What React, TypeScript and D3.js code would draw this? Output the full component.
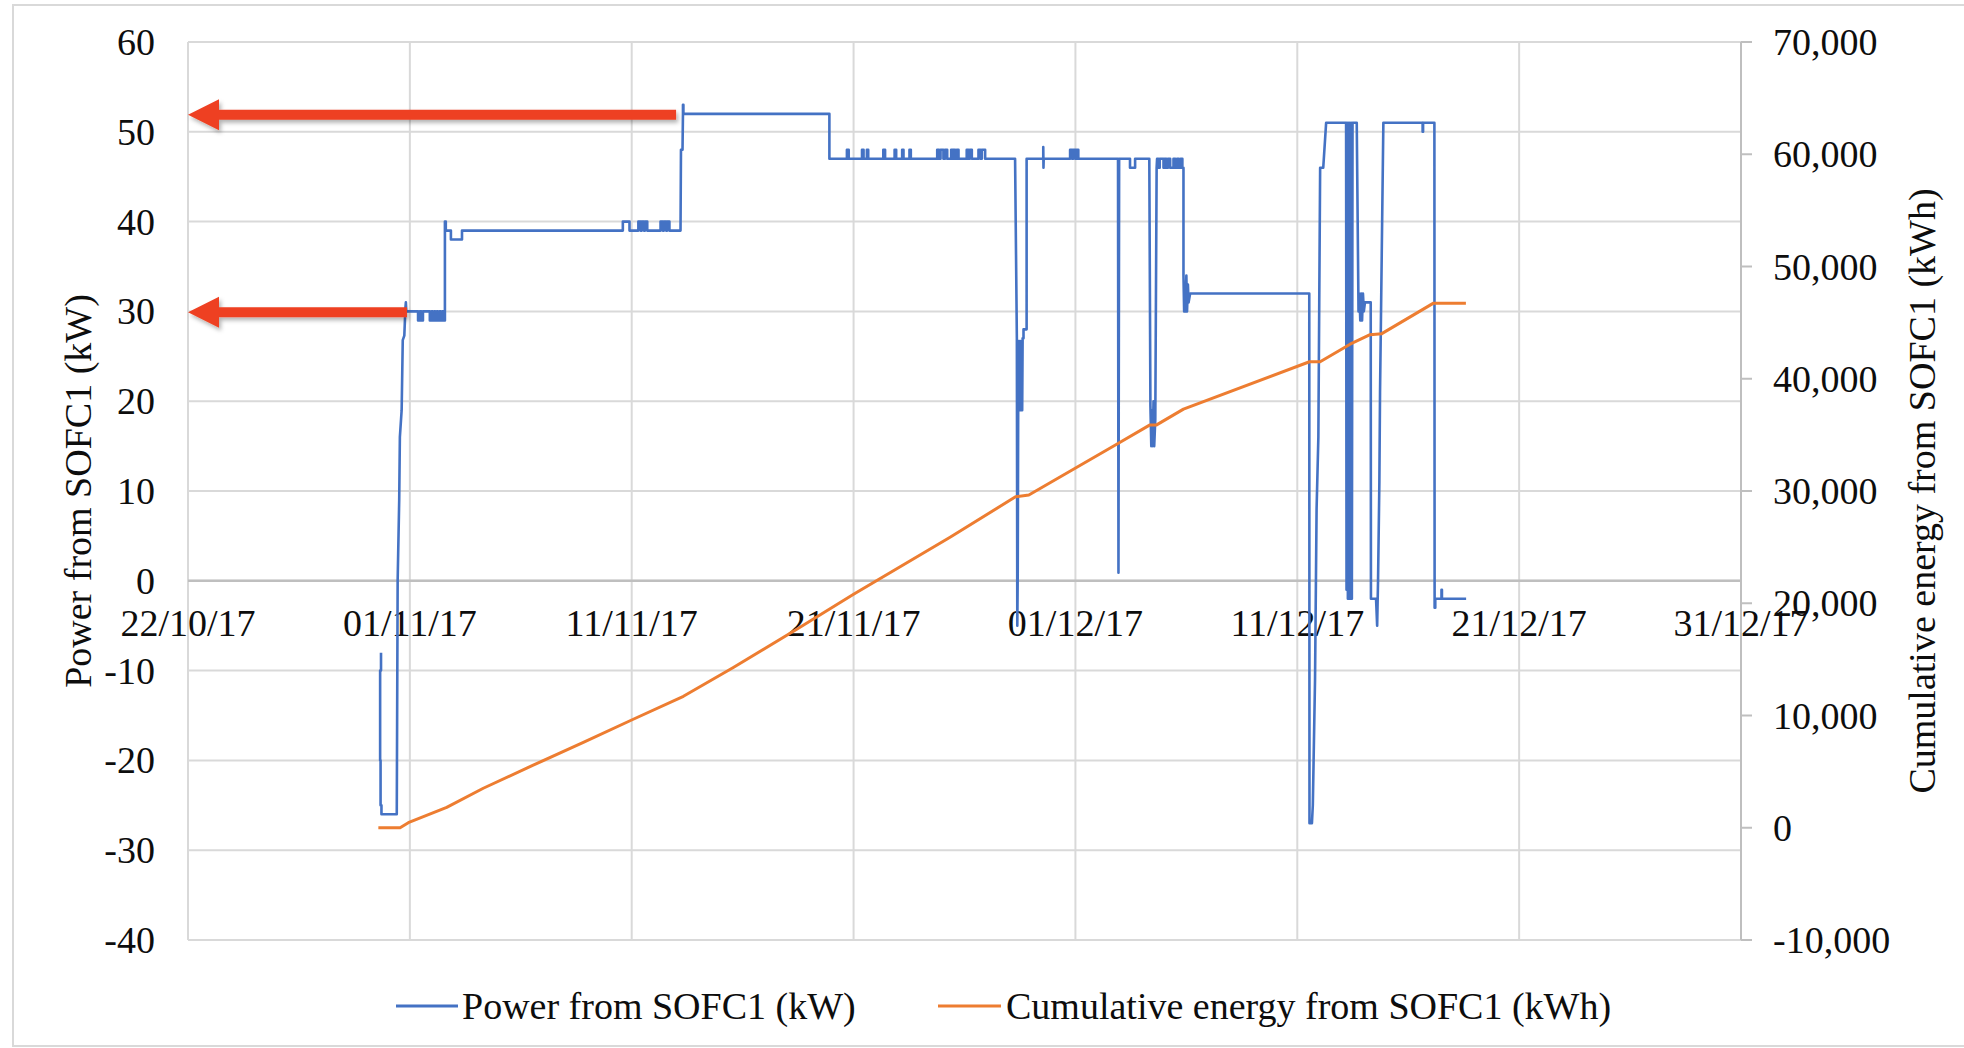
import React from "react";
import * as d3 from "d3";

// ---------- DATA ----------
const startDate = Date.UTC(2017, 9, 22); // 22/10/17
const xTickDates = ["2017-10-22", "2017-11-01", "2017-11-11", "2017-11-21", "2017-12-01", "2017-12-11", "2017-12-21", "2017-12-31"];
const leftTicks = [-40, -30, -20, -10, 0, 10, 20, 30, 40, 50, 60];
const rightTicks = [-10000, 0, 10000, 20000, 30000, 40000, 50000, 60000, 70000];

// [days since 22/10/17, kW]
const powerSeries: [number, number][] = [
  [8.70, -8], [8.70, -10], [8.66, -10], [8.66, -20], [8.68, -20], [8.68, -25], [8.72, -25], [8.72, -26],
  [9.41, -26], [9.45, 0], [9.52, 9], [9.55, 16], [9.63, 19], [9.68, 26.8], [9.75, 27.3], [9.80, 30.4], [9.82, 31], [9.84, 30],
  [10.37, 30], [10.37, 29], [10.45, 29], [10.45, 30], [10.52, 30], [10.52, 29], [10.59, 29], [10.59, 30], [10.90, 30],
  [10.90, 29], [10.98, 29], [10.98, 30], [11.02, 30], [11.02, 29], [11.10, 29], [11.10, 30], [11.14, 30], [11.14, 29],
  [11.22, 29], [11.22, 30], [11.26, 30], [11.26, 29], [11.34, 29], [11.34, 30], [11.38, 30], [11.38, 29], [11.46, 29],
  [11.46, 30], [11.50, 30], [11.50, 29], [11.58, 29],
  [11.58, 40], [11.62, 40], [11.62, 39], [11.85, 39], [11.85, 38], [12.35, 38], [12.35, 39],
  [19.60, 39], [19.60, 40], [19.90, 40], [19.90, 39], [20.30, 39], [20.30, 40], [20.40, 40], [20.40, 39], [20.45, 39],
  [20.45, 40], [20.55, 40], [20.55, 39], [20.60, 39], [20.60, 40], [20.70, 40], [20.70, 39],
  [21.30, 39], [21.30, 40], [21.40, 40], [21.40, 39], [21.45, 39], [21.45, 40], [21.55, 40], [21.55, 39], [21.60, 39],
  [21.60, 40], [21.70, 40], [21.70, 39],
  [22.20, 39], [22.22, 48], [22.29, 48], [22.31, 52], [22.31, 53], [22.33, 53], [22.33, 52],
  [28.91, 52], [28.91, 47],
  [29.70, 47], [29.70, 48], [29.78, 48], [29.78, 47],
  [30.38, 47], [30.38, 48], [30.45, 48], [30.45, 47],
  [30.60, 47], [30.60, 48], [30.66, 48], [30.66, 47],
  [31.34, 47], [31.34, 48], [31.42, 48], [31.42, 47],
  [31.85, 47], [31.85, 48], [31.92, 48], [31.92, 47],
  [32.19, 47], [32.19, 48], [32.25, 48], [32.25, 47],
  [32.52, 47], [32.52, 48], [32.58, 48], [32.58, 47],
  [33.77, 47], [33.77, 48], [33.85, 48], [33.85, 47], [33.92, 47], [33.92, 48], [34.05, 48], [34.05, 47], [34.12, 47], [34.12, 48], [34.22, 48], [34.22, 47],
  [34.40, 47], [34.40, 48], [34.48, 48], [34.48, 47], [34.52, 47], [34.52, 48], [34.58, 48], [34.58, 47],
  [34.65, 47], [34.65, 48], [34.73, 48], [34.73, 47],
  [35.10, 47], [35.10, 48], [35.18, 48], [35.18, 47], [35.24, 47], [35.24, 48], [35.33, 48], [35.33, 47],
  [35.63, 47], [35.63, 48], [35.72, 48], [35.72, 47], [35.78, 47], [35.78, 48], [35.93, 48], [35.93, 47],
  [37.28, 47], [37.36, 27], [37.38, -5], [37.40, 1], [37.42, 19], [37.45, 26.7], [37.48, 19], [37.51, 26.7], [37.54, 19],
  [37.57, 26.7], [37.60, 19], [37.62, 27], [37.66, 27], [37.66, 28], [37.80, 28], [37.80, 47],
  [38.55, 47], [38.55, 48.3], [38.56, 46], [38.57, 47],
  [39.76, 47], [39.76, 48], [39.85, 48], [39.85, 47], [39.90, 47], [39.90, 48], [40.00, 48], [40.00, 47], [40.05, 47], [40.05, 48], [40.13, 48], [40.13, 47],
  [41.92, 47], [41.94, 0.9], [41.97, 47],
  [42.46, 47], [42.46, 46], [42.69, 46], [42.69, 47],
  [43.33, 47], [43.38, 19.5], [43.42, 15], [43.45, 19], [43.48, 15], [43.52, 20], [43.55, 15], [43.60, 18], [43.66, 46], [43.68, 47],
  [43.74, 47], [43.74, 46], [43.80, 46], [43.80, 47], [43.97, 47], [43.97, 46], [44.02, 46], [44.02, 47], [44.10, 47], [44.10, 46],
  [44.17, 46], [44.17, 47], [44.27, 47], [44.27, 46], [44.42, 46], [44.42, 47], [44.50, 47], [44.50, 46], [44.58, 46], [44.58, 47],
  [44.66, 47], [44.66, 46], [44.74, 46], [44.74, 47], [44.82, 47], [44.82, 46], [44.87, 46],
  [44.87, 34], [44.90, 30], [44.93, 33], [44.96, 30], [45.00, 34], [45.03, 30], [45.07, 33], [45.10, 31], [45.17, 32],
  [50.54, 32], [50.55, -27], [50.66, -27], [50.70, -25], [50.80, -11], [50.87, 8], [50.95, 16], [50.99, 31], [51.03, 46],
  [51.17, 46], [51.30, 51], [52.20, 51],
  [52.22, -1], [52.25, 51], [52.28, -2], [52.31, 51], [52.34, -2], [52.37, 51], [52.40, -2], [52.43, 51], [52.46, -2], [52.49, 51],
  [52.68, 51], [52.76, 30], [52.80, 32], [52.84, 29], [52.88, 32], [52.92, 29], [52.96, 32], [53.00, 30], [53.05, 31],
  [53.31, 31], [53.32, -2], [53.55, -2], [53.60, -5], [53.64, 0], [53.70, 11], [53.73, 21], [53.88, 51],
  [55.65, 51], [55.65, 50], [55.67, 50], [55.67, 51], [56.18, 51], [56.19, -3], [56.22, -3], [56.22, -2],
  [56.50, -2], [56.50, -1], [56.52, -1], [56.52, -2], [57.61, -2],
];

// [days since 22/10/17, kWh]
const energySeries: [number, number][] = [
  [8.58, 0], [9.56, 0], [9.93, 454], [11.66, 1820], [13.31, 3520], [15.56, 5570], [17.82, 7615], [20.07, 9665],
  [22.33, 11713], [24.58, 14270], [27.44, 17676], [30.0, 20800], [34.35, 25886], [37.30, 29481], [37.90, 29637],
  [41.86, 34170], [43.36, 35890], [43.66, 35890], [44.87, 37296], [50.55, 41516], [51.03, 41516], [52.38, 43079],
  [53.28, 43923], [53.81, 44017], [56.14, 46737], [57.60, 46737],
];

// annotation arrows: [kW value pointed at, tail day]
const arrows: [number, number][] = [[51.9, 22.0], [29.9, 9.87]];

const powerLabel = "Power from SOFC1 (kW)";
const energyLabel = "Cumulative energy from SOFC1 (kWh)";

// ---------- LAYOUT ----------
const W = 1964, H = 1048;
const L = 188, R = 1741, T = 42, B = 940;
const FONT = '"Liberation Serif", "Times New Roman", serif';
const FS = 38;
const BLUE = "#4472C4", ORANGE = "#ED7D31", GRID = "#d9d9d9", AXIS = "#bfbfbf", RED = "#EE4123";
const TXT: React.CSSProperties = { fontFamily: FONT, fontSize: FS, fill: "#0d0d0d" };

const dayToDate = (d: number) => new Date(startDate + d * 86400000);

export default function App() {
  const x = d3.scaleUtc().domain([new Date(Date.UTC(2017, 9, 22)), new Date(Date.UTC(2017, 11, 31))]).range([L, R]);
  const y = d3.scaleLinear().domain([-40, 60]).range([B, T]);
  const yR = d3.scaleLinear().domain([-10000, 70000]).range([B, T]);
  const fmtDate = d3.utcFormat("%d/%m/%y");
  const fmtR = (v: number) => d3.format(",")(v).replace("\u2212", "-");
  const fmtL = (v: number) => String(v);

  const powerLine = d3.line<[number, number]>().x(d => x(dayToDate(d[0]))).y(d => y(d[1]));
  const energyLine = d3.line<[number, number]>().x(d => x(dayToDate(d[0]))).y(d => yR(d[1]));
  const xTicks = xTickDates.map(s => new Date(s + "T00:00:00Z"));
  const y0 = y(0);

  return (
    <svg width={W} height={H} style={{ position: "absolute", left: 0, top: 0, background: "#fff", fontFamily: FONT }}>
      <defs>
        <filter id="sh" x="-10%" y="-50%" width="120%" height="200%">
          <feDropShadow dx="2" dy="3" stdDeviation="2" floodColor="#000" floodOpacity="0.3" />
        </filter>
      </defs>
      <rect x={0} y={0} width={W} height={H} fill="#fff" />
      <rect x={13} y={5} width={1975} height={1041} fill="none" stroke={GRID} strokeWidth={2} />
      {leftTicks.map(v => (
        <line key={"h" + v} x1={L} x2={R} y1={y(v)} y2={y(v)} stroke={GRID} strokeWidth={2} />
      ))}
      {xTicks.map((d, i) => (
        <line key={"v" + i} x1={x(d)} x2={x(d)} y1={T} y2={B} stroke={GRID} strokeWidth={2} />
      ))}
      <line x1={L} x2={R} y1={y0} y2={y0} stroke={AXIS} strokeWidth={2.5} />
      <line x1={R} x2={R} y1={T} y2={B} stroke={AXIS} strokeWidth={2} />
      {rightTicks.map(v => (
        <line key={"rt" + v} x1={R} x2={R + 11} y1={yR(v)} y2={yR(v)} stroke={AXIS} strokeWidth={2} />
      ))}
      {leftTicks.map(v => (
        <text key={"lt" + v} x={155} y={y(v)} textAnchor="end" dominantBaseline="central" style={TXT}>{fmtL(v)}</text>
      ))}
      {rightTicks.map(v => (
        <text key={"rl" + v} x={1773} y={yR(v)} textAnchor="start" dominantBaseline="central" style={TXT}>{fmtR(v)}</text>
      ))}
      {xTicks.map((d, i) => (
        <text key={"xl" + i} x={x(d)} y={y0 + 42} textAnchor="middle" dominantBaseline="central" style={TXT}>{fmtDate(d)}</text>
      ))}
      <path d={powerLine(powerSeries) || ""} fill="none" stroke={BLUE} strokeWidth={2.6} strokeLinejoin="round" />
      <path d={energyLine(energySeries) || ""} fill="none" stroke={ORANGE} strokeWidth={3} strokeLinejoin="round" />
      {arrows.map(([v, tail], i) => {
        const cy = y(v), tip = L, tx = x(dayToDate(tail));
        const hl = 31, hh = 15.5, sh = 5;
        const pts = [[tip, cy], [tip + hl, cy - hh], [tip + hl, cy - sh], [tx, cy - sh], [tx, cy + sh], [tip + hl, cy + sh], [tip + hl, cy + hh]];
        return <polygon key={"a" + i} points={pts.map(p => p.join(",")).join(" ")} fill={RED} filter="url(#sh)" />;
      })}
      <text transform={`translate(78,${(T + B) / 2}) rotate(-90)`} textAnchor="middle" dominantBaseline="central" style={TXT}>{powerLabel}</text>
      <text transform={`translate(1922,${(T + B) / 2}) rotate(-90)`} textAnchor="middle" dominantBaseline="central" style={TXT}>{energyLabel}</text>
      <line x1={396} x2={458} y1={1006} y2={1006} stroke={BLUE} strokeWidth={3} />
      <text x={462} y={1006} dominantBaseline="central" style={TXT}>{powerLabel}</text>
      <line x1={938} x2={1001} y1={1006} y2={1006} stroke={ORANGE} strokeWidth={3} />
      <text x={1006} y={1006} dominantBaseline="central" style={TXT}>{energyLabel}</text>
    </svg>
  );
}
